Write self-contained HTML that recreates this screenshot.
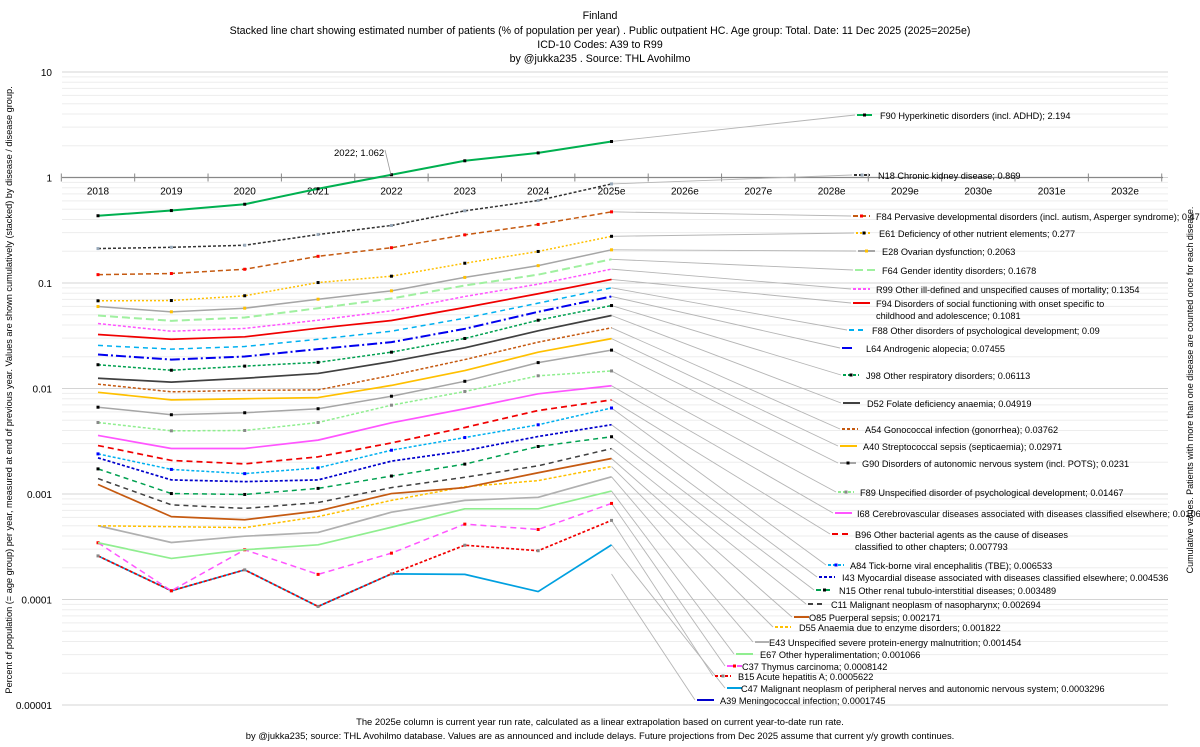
<!DOCTYPE html>
<html><head><meta charset="utf-8"><style>
html,body{margin:0;padding:0;background:#fff;}
svg{display:block;font-family:"Liberation Sans",sans-serif;}
</style></head><body>
<svg id="chart" width="1200" height="747" viewBox="0 0 1200 747" xmlns="http://www.w3.org/2000/svg">
<g font-size="10.6" fill="#000" text-anchor="middle">
<text x="600" y="19">Finland</text>
<text x="600" y="34">Stacked line chart showing estimated number of patients  (% of population per year) . Public outpatient HC. Age group: Total. Date: 11 Dec 2025 (2025=2025e)</text>
<text x="600" y="48">ICD-10 Codes: A39 to R99</text>
<text x="600" y="62">by @jukka235 . Source: THL Avohilmo</text>
</g>
<g id="grid"></g>
<g id="yaxis"></g>
<g id="xaxis"></g>
<g id="leaders"></g>
<g id="series"></g>
<g id="legend"></g>
<text font-size="9.2" transform="translate(12,390) rotate(-90)" text-anchor="middle">Percent of population (= age group) per year, measured at end of previous year. Values are shown cumulatively (stacked) by disease / disease group.</text>
<text font-size="9" transform="translate(1193,390) rotate(-90)" text-anchor="middle">Cumulative values. Patients with more than one disease are counted once for each disease.</text>
<g>
<line x1="385" y1="150" x2="391" y2="175" stroke="#999" stroke-width="0.8"/>
<text x="334" y="156" font-size="9.5">2022; 1.062</text>
</g>
<g font-size="9.4" text-anchor="middle">
<text x="600" y="725">The 2025e column is current year run rate, calculated as a linear extrapolation based on current year-to-date run rate.</text>
<text x="600" y="739">by @jukka235; source: THL Avohilmo database. Values are as announced and include delays. Future projections from Dec 2025 assume that current y/y growth continues.</text>
</g>
</svg>
<script>
const categories = ["2018","2019","2020","2021","2022","2023","2024","2025e","2026e","2027e","2028e","2029e","2030e","2031e","2032e"];
const yTicks = [10,1,0.1,0.01,0.001,0.0001,0.00001];
const yTickLabels = ["10","1","0.1","0.01","0.001","0.0001","0.00001"];
const seriesLabels = [
"F90 Hyperkinetic disorders (incl. ADHD); 2.194",
"N18 Chronic kidney disease; 0.869",
"F84 Pervasive developmental disorders (incl. autism, Asperger syndrome); 0.4725",
"E61 Deficiency of other nutrient elements; 0.277",
"E28 Ovarian dysfunction; 0.2063",
"F64 Gender identity disorders; 0.1678",
"R99 Other ill-defined and unspecified causes of mortality; 0.1354",
"F94 Disorders of social functioning with onset specific to|childhood and adolescence; 0.1081",
"F88 Other disorders of psychological development; 0.09",
"L64 Androgenic alopecia; 0.07455",
"J98 Other respiratory disorders; 0.06113",
"D52 Folate deficiency anaemia; 0.04919",
"A54 Gonococcal infection (gonorrhea); 0.03762",
"A40 Streptococcal sepsis (septicaemia); 0.02971",
"G90 Disorders of autonomic nervous system (incl. POTS); 0.0231",
"F89 Unspecified disorder of psychological development; 0.01467",
"I68 Cerebrovascular diseases associated with diseases classified elsewhere; 0.01062",
"B96 Other bacterial agents as the cause of diseases|classified to other chapters; 0.007793",
"A84 Tick-borne viral encephalitis (TBE); 0.006533",
"I43 Myocardial disease associated with diseases classified elsewhere; 0.004536",
"N15 Other renal tubulo-interstitial diseases; 0.003489",
"C11 Malignant neoplasm of nasopharynx; 0.002694",
"O85 Puerperal sepsis; 0.002171",
"D55 Anaemia due to enzyme disorders; 0.001822",
"E43 Unspecified severe protein-energy malnutrition; 0.001454",
"E67 Other hyperalimentation; 0.001066",
"C37 Thymus carcinoma; 0.0008142",
"B15 Acute hepatitis A; 0.0005622",
"C47 Malignant neoplasm of peripheral nerves and autonomic nervous system; 0.0003296",
"A39 Meningococcal infection; 0.0001745"
];
const seriesValues = [
[0.434,0.486,0.558,0.782,1.062,1.44,1.71,2.194],
[0.212,0.218,0.228,0.288,0.351,0.483,0.605,0.869],
[0.120,0.123,0.135,0.179,0.216,0.286,0.359,0.4725],
[0.0678,0.0682,0.0757,0.101,0.116,0.154,0.199,0.277],
[0.0598,0.0533,0.0577,0.0702,0.0843,0.113,0.146,0.2063],
[0.0492,0.0438,0.0471,0.0577,0.0713,0.0946,0.120,0.1678],
[0.0413,0.0349,0.0371,0.0444,0.0545,0.0745,0.0975,0.1354],
[0.0325,0.0293,0.0309,0.0373,0.0441,0.0586,0.0791,0.1081],
[0.0256,0.0236,0.0250,0.0293,0.0349,0.0464,0.0644,0.09],
[0.0210,0.0188,0.0201,0.0236,0.0275,0.0368,0.0533,0.07455],
[0.0168,0.0149,0.0163,0.0177,0.0221,0.0298,0.0444,0.06113],
[0.0125,0.0115,0.0125,0.0139,0.0180,0.0243,0.0352,0.04919],
[0.0110,0.0093,0.0096,0.0097,0.0133,0.0188,0.0275,0.03762],
[0.0092,0.0078,0.0080,0.0082,0.0107,0.0148,0.0221,0.02971],
[0.00665,0.00564,0.00589,0.00643,0.00845,0.0117,0.0176,0.0231],
[0.00476,0.00397,0.00400,0.00476,0.00695,0.00937,0.0132,0.01467],
[0.00359,0.00270,0.00270,0.00324,0.00473,0.00643,0.00891,0.01062],
[0.00288,0.00208,0.00193,0.00225,0.00305,0.00427,0.00618,0.007793],
[0.00240,0.00171,0.00156,0.00177,0.00260,0.00343,0.00453,0.006533],
[0.00220,0.00136,0.00131,0.00136,0.00205,0.00257,0.00351,0.004536],
[0.00173,0.00101,0.00099,0.00113,0.00148,0.00192,0.00282,0.003489],
[0.00140,0.00079,0.00073,0.00083,0.00115,0.00144,0.00185,0.002694],
[0.00123,0.00061,0.00057,0.00069,0.00101,0.00115,0.00159,0.002171],
[0.00050,0.00049,0.00048,0.00061,0.00087,0.00117,0.00134,0.001822],
[0.00050,0.000347,0.000398,0.000432,0.000672,0.00087,0.00093,0.001454],
[0.000345,0.000245,0.000296,0.000330,0.000484,0.000724,0.000724,0.001066],
[0.000345,0.000121,0.000296,0.000173,0.000275,0.000518,0.000461,0.0008142],
[0.000259,0.000121,0.000191,0.0000859,0.000175,0.000327,0.000290,0.0005622],
[0.000259,0.000121,0.000191,0.0000859,0.000175,0.000173,0.000119,0.0003296],
[null,null,null,null,null,null,null,0.0001745]
];
// styles: [color, dash, width, markerColor]
const seriesStyles = [
["#00b050","",2,"#000"],["#333","3,2",1.5,"#9ab"],["#c55a11","5,3",1.5,"#f00"],["#ffc000","2,2",1.5,"#000"],
["#a6a6a6","",1.5,"#ffc000"],["#a0f0a0","8,4",2,null],["#ff55ff","3,2",1.5,null],["#f00000","",1.7,null],
["#00b0f0","5,4",1.5,null],["#0000ee","10,3,2,3",2,null],["#00a050","3,2",1.5,"#000"],["#404040","",1.7,null],
["#c55a11","3,2",1.5,null],["#ffc000","",1.7,null],["#a6a6a6","",1.5,"#000"],["#90ee90","3,2",1.5,"#888"],
["#ff55ff","",1.7,null],["#f00000","6,4",1.7,null],["#00b0f0","3,2",1.5,"#00f"],["#0000cc","3,2",1.7,null],
["#00a050","5,4",1.5,"#000"],["#404040","5,4",1.5,null],["#c55a11","",1.7,null],["#ffc000","3,2",1.5,null],
["#b0b0b0","",1.7,null],["#90ee90","",1.7,null],["#ff55ff","6,4",1.5,"#f00"],["#f00000","3,2",1.7,"#888"],
["#00a0e0","",1.7,null],["#0000cc","",2,null]
];
// legend layout [textX, textY, markerX1, markerX2]
const legendLayout = [
[880,119,857,872],[878,179,854,870],[876,220,853,870],[879,237,856,872],[882,255,858,875],[882,274,855,875],
[876,293,853,870],[876,307,853,870],[872,334,849,864],[866,352,842,854],[866,379,843,859],[867,407,843,860],
[865,433,842,858],[863,450,840,857],[862,467,840,856],[860,496,838,854],[857,517,835,852],[855,538,832,849],
[850,569,828,844],[842,581,819,835],[839,594,816,833],[831,608,808,824],[809,621,794,809],[799,631,775,791],
[769,646,755,769],[760,658,736,753],[742,670,727,742],[738,680,715,731],[741,692,727,742],[720,704,697,714]
];
const NS="http://www.w3.org/2000/svg";
const X0=98, DX=73.36, YTOP=72, DEC=105.5;
function xs(i){return X0+i*DX;}
function ys(v){return YTOP+(1-Math.log10(v))*DEC;}
function mk(tag,attrs,parent){const e=document.createElementNS(NS,tag);for(const k in attrs)e.setAttribute(k,attrs[k]);parent.appendChild(e);return e;}
const grid=document.getElementById('grid');
for(let d=-5;d<=0;d++){for(let m=1;m<=9;m++){const v=m*Math.pow(10,d);const y=ys(v);
const l=mk('line',{x1:62,x2:1168,y1:y,y2:y,stroke:m===1?'#d4d4d4':'#ededed','stroke-width':1},grid);

}}
const gtop=mk('line',{x1:62,x2:1168,y1:ys(10),y2:ys(10),stroke:'#d4d4d4'},grid);


const yaxis=document.getElementById('yaxis');
yTicks.forEach((t,i)=>{const e=mk('text',{x:52,y:ys(t)+4,'font-size':10,'text-anchor':'end'},yaxis);e.textContent=yTickLabels[i];

});
const xaxis=document.getElementById('xaxis');
const ay=ys(1);
mk('line',{x1:62,x2:1163,y1:ay,y2:ay,stroke:'#888','stroke-width':1.2},xaxis);
for(let i=0;i<=categories.length;i++){const x=xs(i)-DX/2;mk('line',{x1:x,x2:x,y1:ay-4,y2:ay+4,stroke:'#888'},xaxis);}
categories.forEach((c,i)=>{const e=mk('text',{x:xs(i),y:ay+17,'font-size':10,'text-anchor':'middle'},xaxis);e.textContent=c;

});
const sg=document.getElementById('series'), lg=document.getElementById('legend'), ld=document.getElementById('leaders');
for(let s=seriesValues.length-1;s>=0;s--){
const vals=seriesValues[s], st=seriesStyles[s];
const pts=[];vals.forEach((v,i)=>{if(v!=null)pts.push([xs(i),ys(v)]);});
if(pts.length>1){const p=mk('polyline',{points:pts.map(q=>q.join(',')).join(' '),fill:'none',stroke:st[0],'stroke-width':st[2],'stroke-dasharray':st[1],'stroke-linejoin':'round'},sg);

}
if(st[3]){pts.forEach(q=>{mk('rect',{x:q[0]-1.5,y:q[1]-1.5,width:3,height:3,fill:st[3]},sg);});}
const L=legendLayout[s];const last=pts[pts.length-1];
const ln=mk('line',{x1:last[0],y1:last[1],x2:L[2]-2,y2:L[1]-4,stroke:'#b5b5b5','stroke-width':0.9},ld);


const g=mk('g',{},lg);


mk('line',{x1:L[2],x2:L[3],y1:L[1]-4,y2:L[1]-4,stroke:st[0],'stroke-width':2,'stroke-dasharray':st[1]},g);
if(st[3])mk('rect',{x:(L[2]+L[3])/2-1.5,y:L[1]-5.5,width:3,height:3,fill:st[3]},g);
const parts=seriesLabels[s].split('|');
parts.forEach((t,k)=>{const e=mk('text',{x:L[0],y:L[1]+k*12,'font-size':9.2},g);e.textContent=t;});
}
</script>
</body></html>
